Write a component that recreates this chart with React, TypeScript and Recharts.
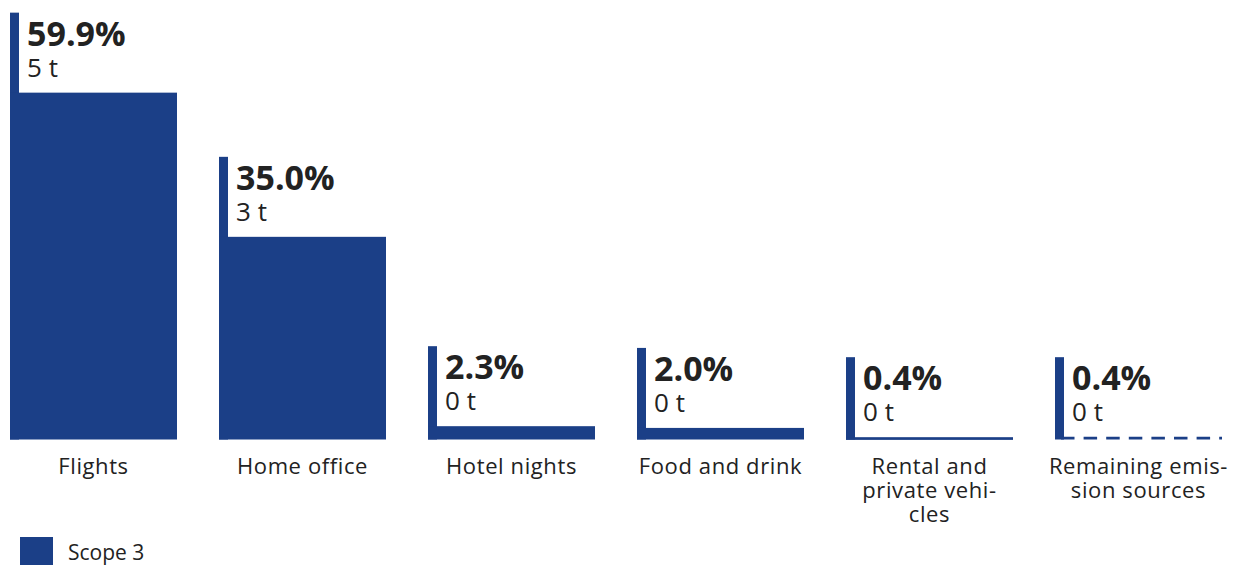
import { BarChart, Bar, XAxis, YAxis, Legend } from 'recharts';

// Share of emissions per category (%), and absolute emissions (t)
const CATEGORIES = [
    'Flights',
    'Home office',
    'Hotel nights',
    'Food and drink',
    'Rental and\nprivate vehi-\ncles',
    'Remaining emis-\nsion sources',
];
const SHARES = [59.9, 35.0, 2.3, 2.0, 0.4, 0.4];
const TONNES = [5, 3, 0, 0, 0, 0];
const SERIES_NAME = 'Scope 3';

const BLUE = '#1b3f87';
const TEXT = '#222222';
const FONT = '"Open Sans", sans-serif';

const data = CATEGORIES.map((name, i) => ({ name, share: SHARES[i], tonnes: TONNES[i] }));

const StemBar = (props: any) => {
    const { x, y, width, height, index, payload } = props;
    const top = y - 80;
    const bottom = y + height;
    const dashed = index === CATEGORIES.length - 1;
    return (
        <g>
            <rect x={x} y={top} width={9} height={bottom - top} fill={BLUE} />
            {dashed ? (
                <line
                    x1={x + 6}
                    x2={x + width}
                    y1={bottom - 1.3}
                    y2={bottom - 1.3}
                    stroke={BLUE}
                    strokeWidth={2.7}
                    strokeDasharray="13.5 9.1"
                />
            ) : (
                <rect x={x} y={y} width={width} height={Math.max(height, 2.7)} fill={BLUE} />
            )}
            <text x={x + 17} y={top + 33} fill={TEXT} fontSize={34} fontWeight={700} fontFamily={FONT}>
                {payload.share.toFixed(1)}%
            </text>
            <text x={x + 17} y={top + 64} fill={TEXT} fontSize={26} fontFamily={FONT}>
                {payload.tonnes} t
            </text>
        </g>
    );
};

const CategoryTick = (props: any) => {
    const { x, y, payload } = props;
    const lines = String(payload.value).split('\n');
    return (
        <g>
            {lines.map((line, i) => (
                <text
                    key={i}
                    x={x}
                    y={y + 26 + i * 24}
                    textAnchor="middle"
                    fill={TEXT}
                    fontSize={22}
                    letterSpacing={0.6}
                    fontFamily={FONT}
                >
                    {line}
                </text>
            ))}
        </g>
    );
};

const LegendContent = () => (
    <div style={{ display: 'flex', alignItems: 'flex-start', fontFamily: FONT }}>
        <div style={{ width: 33, height: 33, background: BLUE }} />
        <span style={{ marginLeft: 15, fontSize: 21, color: TEXT, lineHeight: '30px' }}>{SERIES_NAME}</span>
    </div>
);

export default function App() {
    return (
        <div style={{ position: 'absolute', left: -11, top: 0, width: 1254, height: 565 }}>
            <BarChart width={1254} height={565} data={data} margin={{ top: 0, right: 0, bottom: 0, left: 0 }}>
                <XAxis
                    dataKey="name"
                    axisLine={false}
                    tickLine={false}
                    height={125.5}
                    interval={0}
                    tick={<CategoryTick />}
                />
                <YAxis hide domain={[0, 75.9]} />
                <Legend
                    layout="horizontal"
                    verticalAlign="middle"
                    align="center"
                    wrapperStyle={{ position: 'absolute', top: 537, left: 31, width: 200 }}
                    content={<LegendContent />}
                />
                <Bar dataKey="share" name={SERIES_NAME} barSize={167} shape={<StemBar />} isAnimationActive={false} />
            </BarChart>
        </div>
    );
}
